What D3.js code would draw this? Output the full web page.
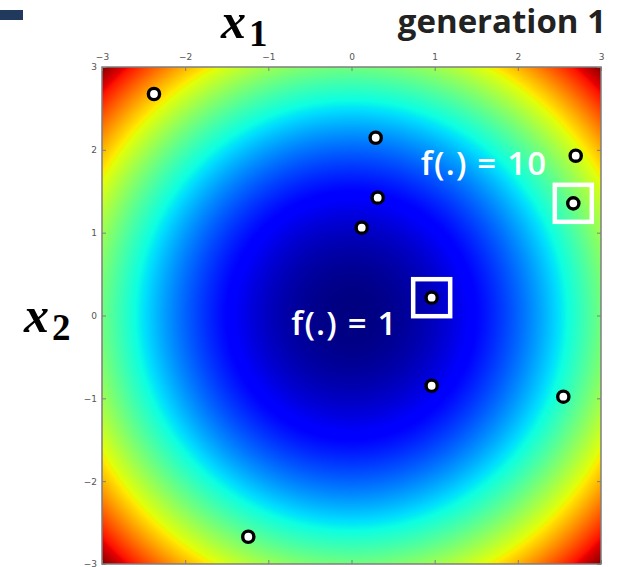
<!DOCTYPE html>
<html>
<head>
<meta charset="utf-8">
<script src="https://cdn.jsdelivr.net/npm/d3@7"></script>
<style>
  html, body { margin: 0; padding: 0; background: #fff; }
  #chart { width: 623px; height: 567px; }
</style>
</head>
<body>
<div id="chart"></div>
<script>
// tick values on both axes
const tickValues = [-3, -2, -1, 0, 1, 2, 3];

// population of generation 1 (x1, x2)
const x1Values = [-2.375, 0.291, 2.696, 0.315, 2.667, 0.123, 0.964, 0.964, 2.547, -1.241];
const x2Values = [2.674, 2.146, 1.929, 1.422, 1.354, 1.060, 0.215, -0.848, -0.980, -2.671];

// boxed individuals and their labels
const boxedIndex = [6, 4];
const boxLabels = ['f(.) = 1', 'f(.) = 10'];

// jet colormap stops
const jetPos = [0, 0.11, 0.125, 0.34, 0.35, 0.375, 0.64, 0.65, 0.66, 0.89, 0.91, 1];
const jetR = [0, 0, 0, 0, 0, 0.0484, 0.8889, 0.9206, 1, 1, 0.9091, 0.5];
const jetG = [0, 0, 0, 0.86, 0.9, 1, 1, 0.9629, 0.9259, 0.0741, 0, 0];
const jetB = [0.5, 1, 1, 1, 0.9677, 0.8871, 0.0323, 0, 0, 0, 0, 0];
const fMax = 18;

const W = 623, H = 567;
const margin = { top: 67, right: 22, bottom: 3, left: 102 };
const width = W - margin.left - margin.right;
const height = H - margin.top - margin.bottom;

const svg = d3.select('#chart')
  .append('svg')
  .attr('width', W)
  .attr('height', H)
  .attr('viewBox', `0 0 ${W} ${H}`);

const x = d3.scaleLinear().domain([-3, 3]).range([0, width]);
const y = d3.scaleLinear().domain([-3, 3]).range([height, 0]);

const rS = d3.scaleLinear().domain(jetPos).range(jetR).clamp(true);
const gS = d3.scaleLinear().domain(jetPos).range(jetG).clamp(true);
const bS = d3.scaleLinear().domain(jetPos).range(jetB).clamp(true);

// heat map of f(x1, x2) = x1^2 + x2^2 drawn on a canvas, then put in the svg
const canvas = document.createElement('canvas');
canvas.width = Math.round(width);
canvas.height = Math.round(height);
const ctx = canvas.getContext('2d');
const img = ctx.createImageData(canvas.width, canvas.height);
for (let j = 0; j < canvas.height; j++) {
  const v2 = y.invert(j + 0.5);
  for (let i = 0; i < canvas.width; i++) {
    const v1 = x.invert(i + 0.5);
    const t = (v1 * v1 + v2 * v2) / fMax;
    const k = (j * canvas.width + i) * 4;
    img.data[k] = rS(t) * 255;
    img.data[k + 1] = gS(t) * 255;
    img.data[k + 2] = bS(t) * 255;
    img.data[k + 3] = 255;
  }
}
ctx.putImageData(img, 0, 0);

const g = svg.append('g')
  .attr('transform', `translate(${margin.left},${margin.top})`);

g.append('image')
  .attr('x', 0)
  .attr('y', 0)
  .attr('width', width)
  .attr('height', height)
  .attr('preserveAspectRatio', 'none')
  .attr('href', canvas.toDataURL());

// frame
g.append('rect')
  .attr('width', width)
  .attr('height', height)
  .attr('fill', 'none')
  .attr('stroke', '#7f7f7f')
  .attr('stroke-width', 1.5);

// axes (matplotlib style: inward ticks on all sides, labels top and left)
function styleAxis(sel) {
  sel.select('.domain').remove();
  sel.selectAll('line').attr('stroke', '#7f7f7f');
  sel.selectAll('text')
    .attr('fill', '#555')
    .style('font-family', 'DejaVu Sans')
    .style('font-size', '9px');
}

const fmt = d3.format('d');

g.append('g')
  .call(d3.axisTop(x).tickValues(tickValues).tickFormat(fmt).tickSize(-4).tickPadding(7))
  .call(styleAxis);

g.append('g')
  .call(d3.axisLeft(y).tickValues(tickValues).tickFormat(fmt).tickSize(-4).tickPadding(5))
  .call(styleAxis);

g.append('g')
  .attr('transform', `translate(0,${height})`)
  .call(d3.axisBottom(x).tickValues(tickValues).tickSize(-4).tickFormat(''))
  .call(styleAxis);

g.append('g')
  .attr('transform', `translate(${width},0)`)
  .call(d3.axisRight(y).tickValues(tickValues).tickSize(-4).tickFormat(''))
  .call(styleAxis);

// individuals
const points = x1Values.map((v, i) => ({ x1: v, x2: x2Values[i] }));

g.selectAll('.dot')
  .data(points)
  .enter()
  .append('circle')
  .attr('class', 'dot')
  .attr('cx', d => x(d.x1))
  .attr('cy', d => y(d.x2))
  .attr('r', 5.6)
  .attr('fill', '#fff')
  .attr('stroke', '#000')
  .attr('stroke-width', 3.4);

// boxes round the picked individuals
const boxSize = 37;
g.selectAll('.box')
  .data(boxedIndex)
  .enter()
  .append('rect')
  .attr('class', 'box')
  .attr('x', i => x(x1Values[i]) - boxSize / 2)
  .attr('y', i => y(x2Values[i]) - boxSize / 2)
  .attr('width', boxSize)
  .attr('height', boxSize)
  .attr('fill', 'none')
  .attr('stroke', '#fff')
  .attr('stroke-width', 4.5);

// labels, to the left of each box
const labelOffsets = [[-34, 37], [-26, -28]];
g.selectAll('.boxlabel')
  .data(boxedIndex)
  .enter()
  .append('text')
  .attr('class', 'boxlabel')
  .attr('x', (i, k) => x(x1Values[i]) + labelOffsets[k][0])
  .attr('y', (i, k) => y(x2Values[i]) + labelOffsets[k][1])
  .attr('text-anchor', 'end')
  .attr('fill', '#fff')
  .style('font-family', 'Open Sans')
  .style('font-weight', 600)
  .style('font-size', '33px')
  .style('letter-spacing', '1.2px')
  .text((i, k) => boxLabels[k]);

// slide decorations
svg.append('rect')
  .attr('x', 0)
  .attr('y', 10)
  .attr('width', 23)
  .attr('height', 10)
  .attr('fill', '#22395e');

svg.append('text')
  .attr('x', 606)
  .attr('y', 33)
  .attr('text-anchor', 'end')
  .attr('fill', '#222')
  .style('font-family', 'Open Sans')
  .style('font-weight', 700)
  .style('font-size', '33px')
  .text('generation 1');

function mathLabel(px, py, sub) {
  const t = svg.append('text')
    .attr('x', px)
    .attr('y', py)
    .attr('fill', '#000')
    .style('font-family', 'Liberation Serif')
    .style('font-weight', 700);
  t.append('tspan')
    .style('font-style', 'italic')
    .style('font-size', '50px')
    .text('x');
  t.append('tspan')
    .attr('dy', 8)
    .attr('dx', 3)
    .style('font-size', '37px')
    .text(sub);
}
mathLabel(221, 38, '1');
mathLabel(24, 332, '2');
</script>
</body>
</html>
